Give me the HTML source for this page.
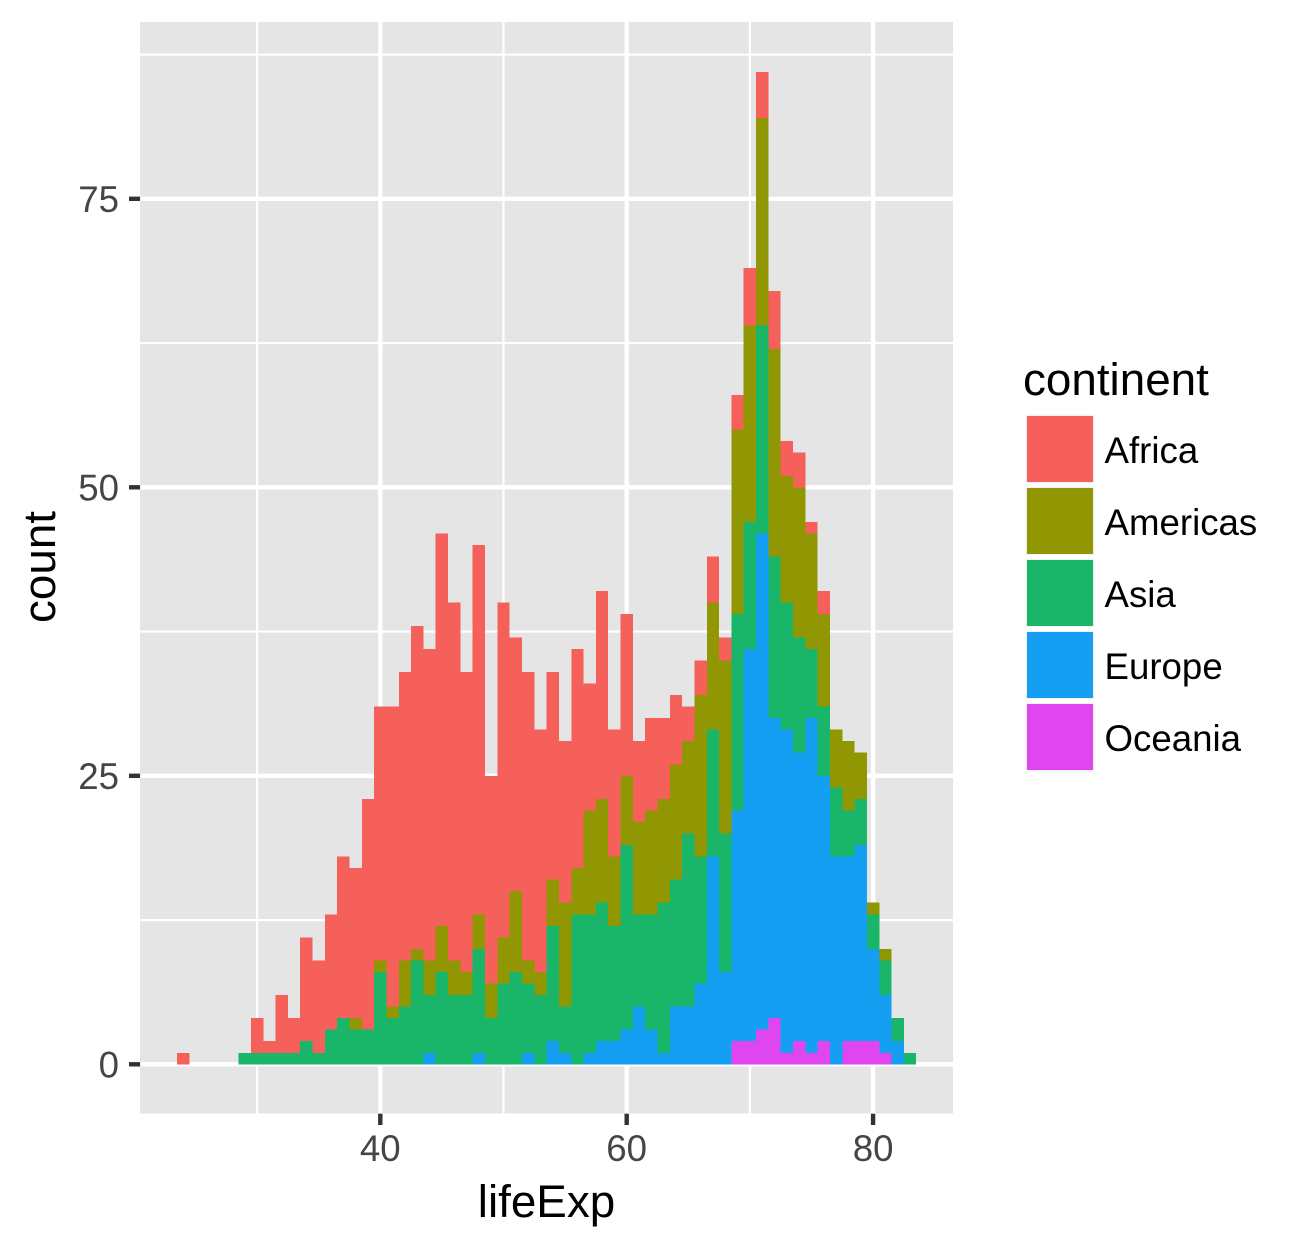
<!DOCTYPE html>
<html lang="en">
<head>
<meta charset="utf-8">
<title>lifeExp histogram by continent</title>
<style>
html,body{margin:0;padding:0;background:#fff;}
svg{display:block;font-family:"Liberation Sans",Arial,sans-serif;}
</style>
</head>
<body>
<svg id="chart" xmlns="http://www.w3.org/2000/svg" width="1304" height="1249" viewBox="0 0 1304 1249">
  <rect x="0" y="0" width="1304" height="1249" fill="#ffffff"/>
  <rect x="140" y="22" width="813" height="1091.5" fill="#e5e5e5"/>
  <g id="grid"></g>
  <g id="bars" shape-rendering="crispEdges"></g>
  <g id="axes"></g>
  <text x="546.5" y="1217" font-size="45.8" text-anchor="middle" fill="#000">lifeExp</text>
  <text transform="translate(55,567) rotate(-90)" font-size="45.8" text-anchor="middle" fill="#000">count</text>
  <g>
    <text x="1023" y="395" font-size="45.8" fill="#000">continent</text>
    <rect x="1025.5" y="414.5" width="69" height="357" fill="#f2f2f2"/>
    <rect x="1025.5" y="483" width="69" height="4" fill="#ffffff"/>
    <rect x="1025.5" y="555" width="69" height="4" fill="#ffffff"/>
    <rect x="1025.5" y="627" width="69" height="4" fill="#ffffff"/>
    <rect x="1025.5" y="699" width="69" height="4" fill="#ffffff"/>
    <g>
      <rect x="1027" y="416" width="66" height="66" fill="#f6605a"/>
      <text x="1104.5" y="463" font-size="36.67" fill="#000">Africa</text>
    </g>
    <g>
      <rect x="1027" y="488" width="66" height="66" fill="#919603"/>
      <text x="1104.5" y="535" font-size="36.67" fill="#000">Americas</text>
    </g>
    <g>
      <rect x="1027" y="560" width="66" height="66" fill="#19b66a"/>
      <text x="1104.5" y="607" font-size="36.67" fill="#000">Asia</text>
    </g>
    <g>
      <rect x="1027" y="632" width="66" height="66" fill="#149ff3"/>
      <text x="1104.5" y="679" font-size="36.67" fill="#000">Europe</text>
    </g>
    <g>
      <rect x="1027" y="704" width="66" height="66" fill="#e046f0"/>
      <text x="1104.5" y="751" font-size="36.67" fill="#000">Oceania</text>
    </g>
  </g>
</svg>
<script>
const binCenters = [24,25,26,27,28,29,30,31,32,33,34,35,36,37,38,39,40,41,42,43,44,45,46,47,48,49,50,51,52,53,54,55,56,57,58,59,60,61,62,63,64,65,66,67,68,69,70,71,72,73,74,75,76,77,78,79,80,81,82,83];
const africa = [1,0,0,0,0,0,3,1,5,3,9,8,10,14,13,20,22,26,25,28,27,34,31,26,32,18,29,22,25,21,18,14,19,11,18,11,14,7,8,7,6,3,3,4,2,3,5,4,5,3,3,1,2,0,0,0,0,0,0,0];
const americas = [0,0,0,0,0,0,0,0,0,0,0,0,0,0,1,0,1,1,4,1,3,4,3,2,3,3,4,7,2,2,4,9,4,9,9,6,6,8,9,9,10,8,14,11,15,16,17,18,18,11,13,10,8,5,6,4,1,1,0,0];
const asia = [0,0,0,0,0,1,1,1,1,1,2,1,3,4,3,3,8,4,5,9,5,8,6,6,9,4,7,8,6,6,10,4,13,12,12,10,16,8,10,13,11,15,11,11,12,17,11,18,14,11,10,6,6,6,4,4,3,3,2,1];
const europe = [0,0,0,0,0,0,0,0,0,0,0,0,0,0,0,0,0,0,0,0,1,0,0,0,1,0,0,0,1,0,2,1,0,1,2,2,3,5,3,1,5,5,7,18,8,20,34,43,26,28,25,29,23,18,16,17,8,5,2,0];
const oceania = [0,0,0,0,0,0,0,0,0,0,0,0,0,0,0,0,0,0,0,0,0,0,0,0,0,0,0,0,0,0,0,0,0,0,0,0,0,0,0,0,0,0,0,0,0,2,2,3,4,1,2,1,2,0,2,2,2,1,0,0];
const xMajorTicks = [40,60,80];
const xMinorTicks = [30,50,70];
const yMajorTicks = [0,25,50,75];
const yMinorTicks = [12.5,37.5,62.5,87.5];
const seriesNames = ["oceania","europe","asia","americas","africa"];
const seriesColors = ["#e046f0","#149ff3","#19b66a","#919603","#f6605a"];
const binWidth = 1;

const NS = "http://www.w3.org/2000/svg";
const panel = {left:140.1, right:953.2, top:22, bottom:1113.7};
function xScale(v){ return 380.3 + (v - 40) * 12.32; }
function yScale(v){ return 1064.3 - v * 11.54; }
function make(tag, attrs, parent){
  const el = document.createElementNS(NS, tag);
  for (const k in attrs) el.setAttribute(k, attrs[k]);
  parent.appendChild(el);
  return el;
}
const gridG = document.getElementById("grid");
const barsG = document.getElementById("bars");
const axesG = document.getElementById("axes");

yMinorTicks.forEach(function(t){
  const l = make("line", {x1:panel.left, x2:panel.right, y1:yScale(t), y2:yScale(t), stroke:"#fff", "stroke-width":2.2}, gridG);
  
  
});
xMinorTicks.forEach(function(t){
  const l = make("line", {x1:xScale(t), x2:xScale(t), y1:panel.top, y2:panel.bottom, stroke:"#fff", "stroke-width":2.2}, gridG);
  
  
});
yMajorTicks.forEach(function(t){
  const l = make("line", {x1:panel.left, x2:panel.right, y1:yScale(t), y2:yScale(t), stroke:"#fff", "stroke-width":4.4}, gridG);
  
  
});
xMajorTicks.forEach(function(t){
  const l = make("line", {x1:xScale(t), x2:xScale(t), y1:panel.top, y2:panel.bottom, stroke:"#fff", "stroke-width":4.4}, gridG);
  
  
});

const seriesValues = [oceania, europe, asia, americas, africa];
binCenters.forEach(function(center, i){
  let base = 0;
  seriesValues.forEach(function(values, s){
    const v = values[i];
    if (v > 0) {
      const x0 = xScale(center - binWidth / 2);
      const x1 = xScale(center + binWidth / 2);
      const y1 = yScale(base);
      const y0 = yScale(base + v);
      const r = make("rect", {x:x0, y:y0, width:x1 - x0, height:y1 - y0, fill:seriesColors[s]}, barsG);
      
      
    }
    base += v;
  });
});

yMajorTicks.forEach(function(t){
  const m = make("line", {x1:129, x2:panel.left, y1:yScale(t), y2:yScale(t), stroke:"#333", "stroke-width":4.4}, axesG);
  
  
  const lbl = make("text", {x:119, y:yScale(t) + 13, "text-anchor":"end", "font-size":36.67, fill:"#454545"}, axesG);
  lbl.textContent = String(t);
  
  
});
xMajorTicks.forEach(function(t){
  const m = make("line", {x1:xScale(t), x2:xScale(t), y1:panel.bottom, y2:1125, stroke:"#333", "stroke-width":4.4}, axesG);
  
  
  const lbl = make("text", {x:xScale(t), y:1161, "text-anchor":"middle", "font-size":36.67, fill:"#454545"}, axesG);
  lbl.textContent = String(t);
  
  
});
</script>
</body>
</html>
